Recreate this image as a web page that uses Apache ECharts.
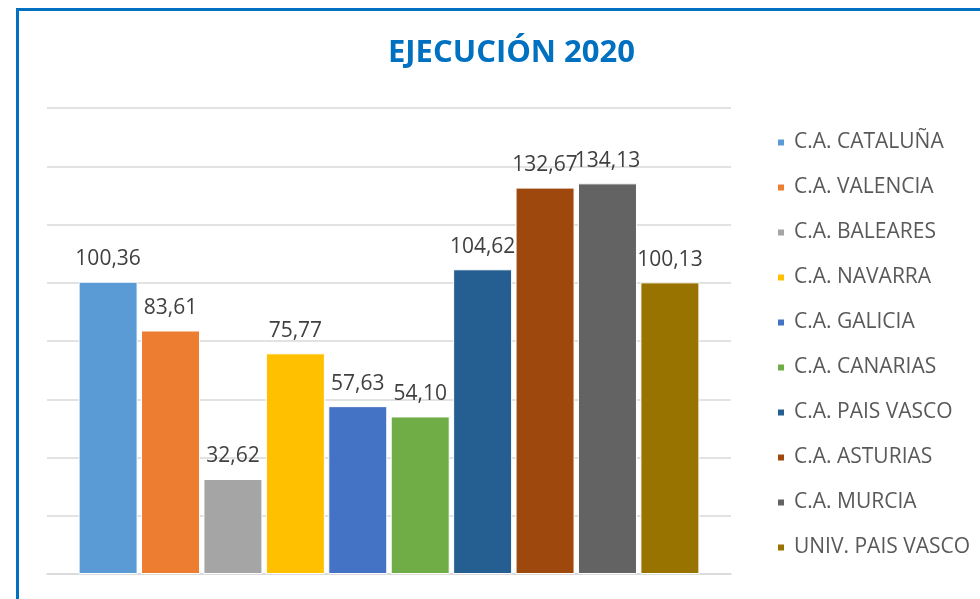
<!DOCTYPE html>
<html>
<head>
<meta charset="utf-8">
<script src="https://cdn.jsdelivr.net/npm/echarts@6/dist/echarts.min.js"></script>
<style>
html,body{margin:0;padding:0;background:#fff;}
#chart{width:980px;height:599px;}
</style>
</head>
<body>
<div id="chart"></div>
<script>
const titleText = 'EJECUCIÓN 2020';
const seriesNames = ['C.A. CATALUÑA','C.A. VALENCIA','C.A. BALEARES','C.A. NAVARRA','C.A. GALICIA','C.A. CANARIAS','C.A. PAIS VASCO','C.A. ASTURIAS','C.A. MURCIA','UNIV. PAIS VASCO'];
const seriesValues = [100.36, 83.61, 32.62, 75.77, 57.63, 54.10, 104.62, 132.67, 134.13, 100.13];
const seriesColors = ['#5B9BD5','#ED7D31','#A5A5A5','#FFC000','#4472C4','#70AD47','#255E91','#9E480E','#636363','#997300'];
const categories = [''];
const yMin = 0, yMax = 160, yInterval = 20;

const chart = echarts.init(document.getElementById('chart'), null, {renderer:'canvas'});
const FONT = '"Open Sans", sans-serif';

const series = seriesNames.map((name, i) => ({
  name: name,
  type: 'bar',
  data: [seriesValues[i]],
  barWidth: 59,
  barGap: '5.8%',
  itemStyle: { color: seriesColors[i], borderColor: '#fff', borderWidth: 1 },
  label: {
    show: true,
    position: 'top',
    distance: 12,
    color: '#404040',
    fontSize: 21,
    fontFamily: FONT,
    formatter: p => p.value.toFixed(2).replace('.', ',')
  }
}));

chart.setOption({
  animation: false,
  backgroundColor: '#fff',
  title: {
    text: titleText,
    left: 383,
    top: 33,
    textStyle: { color: '#0070C0', fontSize: 31, fontWeight: 'bold', fontFamily: FONT }
  },
  legend: {
    orient: 'vertical',
    left: 771,
    top: 127,
    itemWidth: 8,
    itemHeight: 8,
    itemGap: 24,
    icon: 'rect',
    textStyle: { color: '#595959', fontSize: 21, fontFamily: FONT, lineHeight: 21, padding: [0,0,0,4] },
    data: seriesNames
  },
  grid: { left: 47, right: 249, top: 108, bottom: 25, containLabel: false },
  xAxis: {
    type: 'category',
    data: categories,
    axisLine: { show: true, lineStyle: { color: '#d9d9d9', width: 1.5 } },
    axisTick: { show: false },
    axisLabel: { show: false }
  },
  yAxis: {
    type: 'value',
    min: yMin, max: yMax, interval: yInterval,
    axisLine: { show: false },
    axisTick: { show: false },
    axisLabel: { show: false },
    splitLine: { lineStyle: { color: '#d9d9d9', width: 1.5 } }
  },
  graphic: [{
    type: 'rect',
    shape: { x: 17.5, y: 9.5, width: 2000, height: 2000 },
    style: { fill: 'none', stroke: '#0070C0', lineWidth: 3 },
    silent: true
  }],
  series: series
});
</script>
</body>
</html>
